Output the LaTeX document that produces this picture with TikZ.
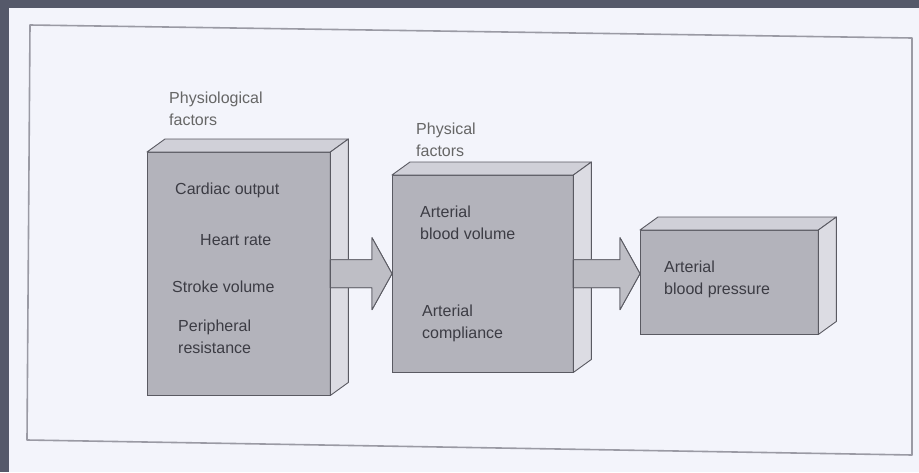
\documentclass[tikz,border=0pt]{standalone}
\usepackage{fontspec}
\setmainfont{Liberation Sans}
\usetikzlibrary{calc, positioning}

\definecolor{slate}{HTML}{55596A}
\definecolor{paper}{HTML}{F3F4FB}
\definecolor{framegray}{HTML}{9A9AA4}
\definecolor{frontgray}{HTML}{B3B3BB}
\definecolor{topgray}{HTML}{D0D0D8}
\definecolor{sidegray}{HTML}{DCDCE3}
\definecolor{edgegray}{HTML}{5A5A62}
\definecolor{inkgray}{HTML}{3C3C44}

\tikzset{
  blockspot/.style={inner sep=0pt, anchor=north west},
  frontface/.style={draw=edgegray, fill=frontgray, line width=0.9pt},
  topface/.style={draw=edgegray, fill=topgray, line width=0.9pt, line join=round},
  sideface/.style={draw=edgegray, fill=sidegray, line width=0.9pt, line join=round},
  arrowfront/.style={draw=edgegray, fill=frontgray!85, line width=0.9pt, line join=round},
  arrowback/.style={draw=edgegray, fill=topgray, line width=0.9pt, line join=round},
  boxtext/.style={font=\fontsize{16}{22}\selectfont, text=inkgray, align=left, anchor=west, inner sep=0pt},
  headtext/.style={boxtext, text=black!60, anchor=south west},
}

% a 3D block: front face, top face and right side
\newcommand\drawblock[1]{%
  \draw[frontface] (#1.north west) rectangle (#1.south east);
  \draw[topface] (#1.north west) -- ++(18,-13) -- ($(#1.north east)+(18,-13)$) -- (#1.north east) -- cycle;
  \draw[sideface] (#1.north east) -- ++(18,-13) -- ($(#1.south east)+(18,-13)$) -- (#1.south east) -- cycle;}

% a 3D block arrow from #1 to #2
\newcommand\blockarrow[2]{%
  \begin{scope}[shift={(10pt,9pt)}]
  \draw[arrowback] let \p1=(#1), \p2=(#2) in
    (\x1,\y1+14pt) -- (\x2-20pt,\y1+14pt) -- (\x2-20pt,\y1+36pt) -- (\x2,\y1)
    -- (\x2-20pt,\y1-36pt) -- (\x2-20pt,\y1-14pt) -- (\x1,\y1-14pt) -- cycle;
  \end{scope}
  \draw[arrowfront] let \p1=(#1), \p2=(#2) in
    (\x1,\y1+14pt) -- (\x2-20pt,\y1+14pt) -- (\x2-20pt,\y1+36pt) -- (\x2,\y1)
    -- (\x2-20pt,\y1-36pt) -- (\x2-20pt,\y1-14pt) -- (\x1,\y1-14pt) -- cycle;}

\begin{document}
\begin{tikzpicture}[x=1pt, y=-1pt]
  \useasboundingbox (0,0) rectangle (919,472);
  \fill[slate] (0,0) rectangle (919,472);
  \fill[paper] (9,8) rectangle (919,472);
  \draw[framegray, line width=1.6pt, line join=round] (30,25) -- (912,38) -- (912,455) -- (27,440) -- cycle;

  % places of the three blocks
  \path (147,152) node[blockspot, minimum width=183pt, minimum height=243pt] (physio) {}
        (392,175) node[blockspot, minimum width=181pt, minimum height=197pt] (physic) {}
        (640,230) node[blockspot, minimum width=178pt, minimum height=104pt] (pressure) {};

  \drawblock{physio}
  \blockarrow{physio.east}{physic.west}
  \drawblock{physic}
  \blockarrow{physic.east |- physio.east}{pressure.west |- physio.east}
  \drawblock{pressure}

  % headings
  \node[headtext] (physiohead) at ($(physio.north west)+(22,-26)$) {Physiological\\factors};
  \node[headtext] (physichead) at ($(physic.north west)+(24,-18)$) {Physical\\factors};

  % texts in the blocks
  \node[boxtext] (cardiac) at ($(physio.north west)+(28,38)$) {Cardiac output};
  \node[boxtext] (heart) at ($(physio.north west)+(53,88)$) {Heart rate};
  \node[boxtext, anchor=west] (stroke) at ($(physio.north west)+(25,135)$) {Stroke volume};
  \node[boxtext, anchor=north west] (periph) at ($(physio.north west)+(31,168)$) {Peripheral\\resistance};

  \node[boxtext, anchor=north west] (volume) at ($(physic.north west)+(28,31)$) {Arterial\\blood volume};
  \node[boxtext, anchor=north west] (compl) at ($(physic.north west)+(30,130)$) {Arterial\\compliance};

  \node[boxtext, anchor=north west] (bp) at ($(pressure.north west)+(24,31)$) {Arterial\\blood pressure};
\end{tikzpicture}
\end{document}
